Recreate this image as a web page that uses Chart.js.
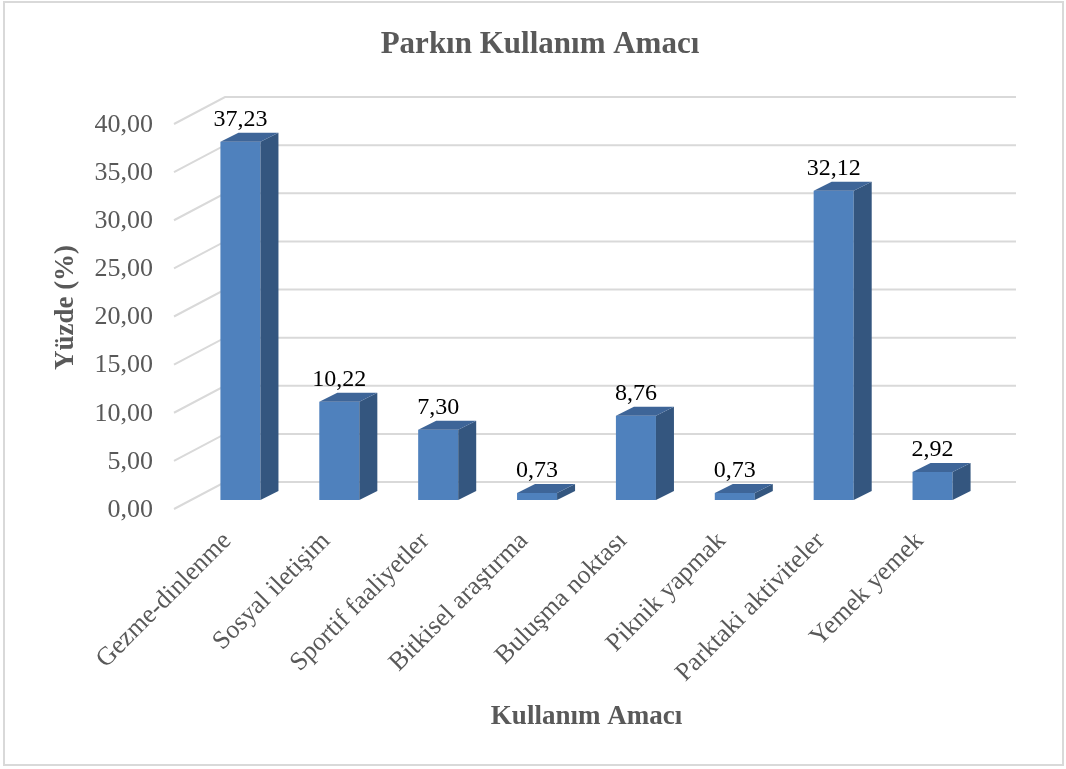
<!DOCTYPE html>
<html>
<head>
<meta charset="utf-8">
<script src="https://cdn.jsdelivr.net/npm/chart.js@4/dist/chart.umd.min.js"></script>
<style>
  html, body { margin: 0; padding: 0; background: #ffffff; }
  #wrap { width: 1066px; height: 769px; }
</style>
</head>
<body>
<div id="wrap"><canvas id="c" width="1066" height="769"></canvas></div>
<script>
const chartTitle = 'Parkın Kullanım Amacı';
const xTitle = 'Kullanım Amacı';
const yTitle = 'Yüzde (%)';
const categories = ['Gezme-dinlenme', 'Sosyal iletişim', 'Sportif faaliyetler', 'Bitkisel araştırma',
                    'Buluşma noktası', 'Piknik yapmak', 'Parktaki aktiviteler', 'Yemek yemek'];
const values = [37.23, 10.22, 7.30, 0.73, 8.76, 0.73, 32.12, 2.92];
const yTicks = [0, 5, 10, 15, 20, 25, 30, 35, 40];

const SERIF = '"Liberation Serif", "Times New Roman", serif';
const fmt = v => Number(v).toFixed(2).replace('.', ',');

// depth offsets (pixels) for the pseudo-3D look
const BACK = { dx: 34, dy: -18 };
const FRONT = { dx: -17, dy: 9 };
const BAR_DEPTH = { dx: 18, dy: -9 };

const framePlugin = {
  id: 'frame',
  beforeDraw(chart) {
    const ctx = chart.ctx;
    ctx.save();
    ctx.fillStyle = '#ffffff';
    ctx.fillRect(0, 0, chart.width, chart.height);
    ctx.strokeStyle = '#d9d9d9';
    ctx.lineWidth = 2;
    ctx.strokeRect(4, 2, 1059, 763);
    ctx.restore();
  }
};

const gridPlugin = {
  id: 'grid3d',
  beforeDatasetsDraw(chart) {
    const ctx = chart.ctx;
    const ys = chart.scales.y;
    const area = chart.chartArea;
    ctx.save();
    ctx.strokeStyle = '#d9d9d9';
    ctx.lineWidth = 2;
    yTicks.forEach(v => {
      const py = ys.getPixelForValue(v);
      ctx.beginPath();
      ctx.moveTo(area.left + FRONT.dx, py + FRONT.dy);
      ctx.lineTo(area.left + BACK.dx, py + BACK.dy);
      ctx.lineTo(area.right + BACK.dx, py + BACK.dy);
      ctx.stroke();
    });
    ctx.restore();
  },
  afterDatasetsDraw(chart) {
    const ctx = chart.ctx;
    const meta = chart.getDatasetMeta(0);
    ctx.save();
    meta.data.forEach((bar, i) => {
      const p = bar.getProps(['x', 'y', 'base', 'width'], true);
      const l = p.x - p.width / 2, r = p.x + p.width / 2;
      // side face
      ctx.fillStyle = '#34567f';
      ctx.beginPath();
      ctx.moveTo(r, p.y);
      ctx.lineTo(r + BAR_DEPTH.dx, p.y + BAR_DEPTH.dy);
      ctx.lineTo(r + BAR_DEPTH.dx, p.base + BAR_DEPTH.dy);
      ctx.lineTo(r, p.base);
      ctx.closePath();
      ctx.fill();
      // top face
      ctx.fillStyle = '#3e6598';
      ctx.beginPath();
      ctx.moveTo(l, p.y);
      ctx.lineTo(l + BAR_DEPTH.dx, p.y + BAR_DEPTH.dy);
      ctx.lineTo(r + BAR_DEPTH.dx, p.y + BAR_DEPTH.dy);
      ctx.lineTo(r, p.y);
      ctx.closePath();
      ctx.fill();
      // data label
      ctx.fillStyle = '#000000';
      ctx.font = '24px ' + SERIF;
      ctx.textAlign = 'center';
      ctx.textBaseline = 'alphabetic';
      ctx.fillText(fmt(values[i]), p.x, p.y - 16);
    });
    ctx.restore();
  }
};

new Chart(document.getElementById('c'), {
  type: 'bar',
  data: {
    labels: categories,
    datasets: [{
      data: values,
      backgroundColor: '#4f81bd',
      borderWidth: 0,
      categoryPercentage: 1.0,
      barPercentage: 0.405
    }]
  },
  options: {
    responsive: false,
    animation: false,
    layout: { padding: { left: 45.8, right: 31.8, top: 0, bottom: 31.8 } },
    plugins: {
      legend: { display: false },
      tooltip: { enabled: false },
      title: {
        display: true,
        text: chartTitle,
        color: '#595959',
        font: { family: SERIF, size: 31, weight: 'bold' },
        padding: { top: 26.4, bottom: 51.4 }
      }
    },
    scales: {
      x: {
        grid: { display: false, drawTicks: false },
        border: { display: false },
        ticks: {
          color: '#595959',
          font: { family: SERIF, size: 26 },
          minRotation: 45, maxRotation: 45,
          autoSkip: false,
          padding: 26,
          labelOffset: -13
        },
        title: {
          display: true, text: xTitle, color: '#595959',
          font: { family: SERIF, size: 27, weight: 'bold' }
        },
        afterFit(s) { s.height = 237.2; }
      },
      y: {
        min: 0, max: 40,
        grid: { display: false, drawTicks: false },
        border: { display: false },
        ticks: {
          stepSize: 5,
          color: '#595959',
          font: { family: SERIF, size: 26 },
          padding: 38,
          labelOffset: 10,
          callback: v => fmt(v)
        },
        title: {
          display: true, text: yTitle, color: '#595959',
          font: { family: SERIF, size: 27, weight: 'bold' }
        },
        afterFit(s) { s.width = 191 - 45.8; }
      },
      yRight: {
        position: 'right',
        display: true,
        grid: { display: false, drawTicks: false },
        border: { display: false },
        ticks: { display: false },
        afterFit(s) { s.width = 1066 - 31.8 - 982; }
      }
    }
  },
  plugins: [framePlugin, gridPlugin]
});
</script>
</body>
</html>
